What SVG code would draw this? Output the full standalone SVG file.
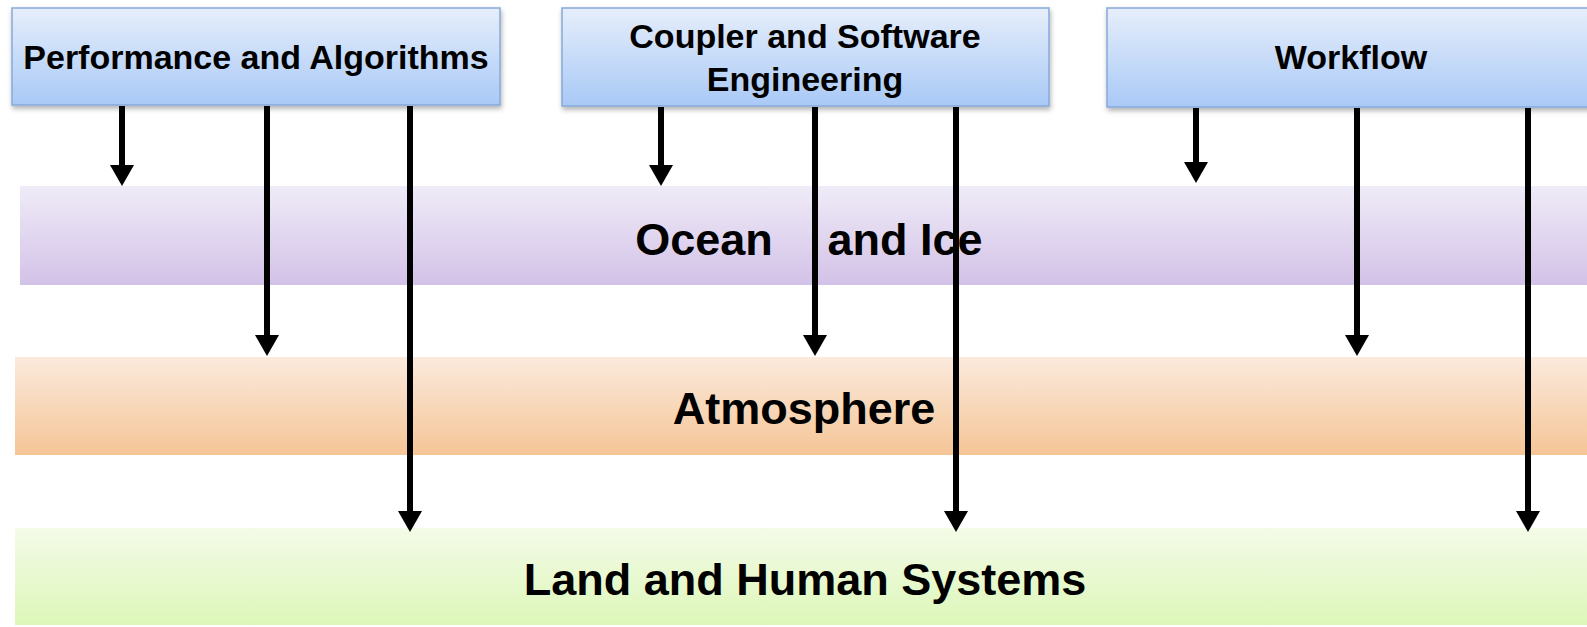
<svg xmlns="http://www.w3.org/2000/svg" width="1587" height="627" viewBox="0 0 1587 627">
<defs>
<linearGradient id="gBox" x1="0" y1="0" x2="0" y2="1"><stop offset="0" stop-color="#e6eefb"/><stop offset="1" stop-color="#a9c9f6"/></linearGradient>
<linearGradient id="gOcean" x1="0" y1="0" x2="0" y2="1"><stop offset="0" stop-color="#efebf7"/><stop offset="1" stop-color="#d3c2e8"/></linearGradient>
<linearGradient id="gAtm" x1="0" y1="0" x2="0" y2="1"><stop offset="0" stop-color="#fbeadd"/><stop offset="1" stop-color="#f5c596"/></linearGradient>
<linearGradient id="gLand" x1="0" y1="0" x2="0" y2="1"><stop offset="0" stop-color="#f4fbe8"/><stop offset="1" stop-color="#ddf7b9"/></linearGradient>
<filter id="sh" x="-5%" y="-10%" width="110%" height="130%"><feDropShadow dx="1" dy="3" stdDeviation="2.5" flood-color="#000" flood-opacity="0.3"/></filter>
<marker id="ah" viewBox="0 0 21 24" refX="1" refY="12" markerWidth="21" markerHeight="24" markerUnits="userSpaceOnUse" orient="auto"><path d="M0,0 L21,12 L0,24 z" fill="#000"/></marker>
</defs>
<style>
.box{fill:url(#gBox);stroke:#86a9da;stroke-width:1.5;filter:url(#sh)}
.bt{font-family:"Liberation Sans",Arial,sans-serif;font-weight:bold;font-size:34px;fill:#000;text-anchor:middle}
.lt{font-family:"Liberation Sans",Arial,sans-serif;font-weight:bold;font-size:45px;fill:#000;text-anchor:middle}
.ar{stroke:#000;stroke-width:6;fill:none;marker-end:url(#ah)}
</style>
<rect width="1587" height="627" fill="#fff"/>
<g id="ocean"><rect x="20" y="186" width="1567" height="99" fill="url(#gOcean)"/><text class="lt" y="255"><tspan x="704">Ocean</tspan><tspan x="905">and Ice</tspan></text></g>
<g id="atmosphere"><rect x="15" y="357" width="1572" height="98" fill="url(#gAtm)"/><text class="lt" x="804" y="424">Atmosphere</text></g>
<g id="land"><rect x="15" y="528" width="1572" height="97" fill="url(#gLand)"/><text class="lt" x="805" y="595">Land and Human Systems</text></g>
<g id="perf"><rect class="box" x="12" y="8" width="488" height="97"/><text class="bt" x="256" y="69">Performance and Algorithms</text></g>
<g id="coupler"><rect class="box" x="562" y="8" width="487" height="98"/><text class="bt" x="805" y="48">Coupler and Software</text><text class="bt" x="805" y="91">Engineering</text></g>
<g id="workflow"><rect class="box" x="1107" y="8" width="495" height="99"/><text class="bt" x="1351" y="69">Workflow</text></g>
<g id="connectors">
<line class="ar" x1="122" y1="106" x2="122" y2="166"/>
<line class="ar" x1="267" y1="106" x2="267" y2="336"/>
<line class="ar" x1="410" y1="106" x2="410" y2="512"/>
<line class="ar" x1="661" y1="107" x2="661" y2="166"/>
<line class="ar" x1="815" y1="107" x2="815" y2="336"/>
<line class="ar" x1="956" y1="107" x2="956" y2="512"/>
<line class="ar" x1="1196" y1="108" x2="1196" y2="163"/>
<line class="ar" x1="1357" y1="108" x2="1357" y2="336"/>
<line class="ar" x1="1528" y1="108" x2="1528" y2="512"/>
</g>
</svg>
